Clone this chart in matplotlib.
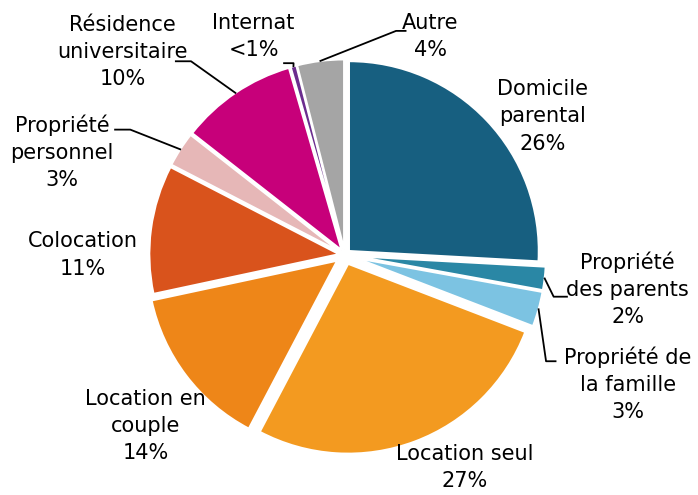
import matplotlib.pyplot as plt
import numpy as np

# data
labels = ["Domicile\nparental", "Propriété\ndes parents", "Propriété de\nla famille",
          "Location seul", "Location en\ncouple", "Colocation", "Propriété\npersonnel",
          "Résidence\nuniversitaire", "Internat", "Autre"]
values = [26, 2, 3, 27, 14, 11, 3, 10, 0.5, 4]
pct_text = ["26%", "2%", "3%", "27%", "14%", "11%", "3%", "10%", "<1%", "4%"]
colors = ["#175f80", "#2a87a5", "#7cc3e2", "#f39a20", "#ee8618", "#d9531c",
          "#e6b7b7", "#c7007a", "#6b2d8e", "#a5a5a5"]
explode = [0.03, 0.06, 0.06, 0.05, 0.05, 0.03, 0.03, 0.03, 0.03, 0.03]

# label placement (text pos, elbow pos) in pie units
text_pos = [(1.04, 0.73), (1.49, -0.18), (1.49, -0.68), (0.63, -1.12), (-1.05, -0.90),
            (-1.38, 0.0), (-1.49, 0.54), (-1.17, 1.07), (-0.48, 1.15), (0.45, 1.15)]
elbow = [None, (1.10, -0.22), (1.06, -0.56), None, None,
         None, (-1.13, 0.66), (-0.81, 1.02), (-0.27, 1.01), (0.27, 1.18)]
line_end = [None, (1.17, -0.22), (1.11, -0.56), None, None,
            None, (-1.21, 0.66), (-0.89, 1.02), (-0.32, 1.01), (0.32, 1.18)]

plt.rcParams['font.family'] = ['DejaVu Sans']

fig = plt.figure(figsize=(6.98, 4.95), dpi=100)
ax = fig.add_axes([0.494 - 0.272, 0.485 - 0.384, 0.544, 0.768])

wedges, _ = ax.pie(values, colors=colors, explode=explode, startangle=90,
                   counterclock=False, radius=1.0,
                   wedgeprops=dict(edgecolor="white", linewidth=1.5))

for i, w in enumerate(wedges):
    tx, ty = text_pos[i]
    ax.text(tx, ty, labels[i] + "\n" + pct_text[i], ha="center", va="center",
            fontsize=15, linespacing=1.45, color="black")
    if elbow[i] is not None:
        mid = np.deg2rad((w.theta1 + w.theta2) / 2)
        cx, cy = w.center
        px = cx + w.r * np.cos(mid)
        py = cy + w.r * np.sin(mid)
        ex, ey = elbow[i]
        lx, ly = line_end[i]
        ax.plot([px, ex, lx], [py, ey, ly], color="black", lw=1.3, clip_on=False)

ax.set_xlim(-1.0, 1.0)
ax.set_ylim(-1.0, 1.0)
ax.set_aspect("equal")
ax.axis("off")

fig.savefig("out.png", dpi=100)
